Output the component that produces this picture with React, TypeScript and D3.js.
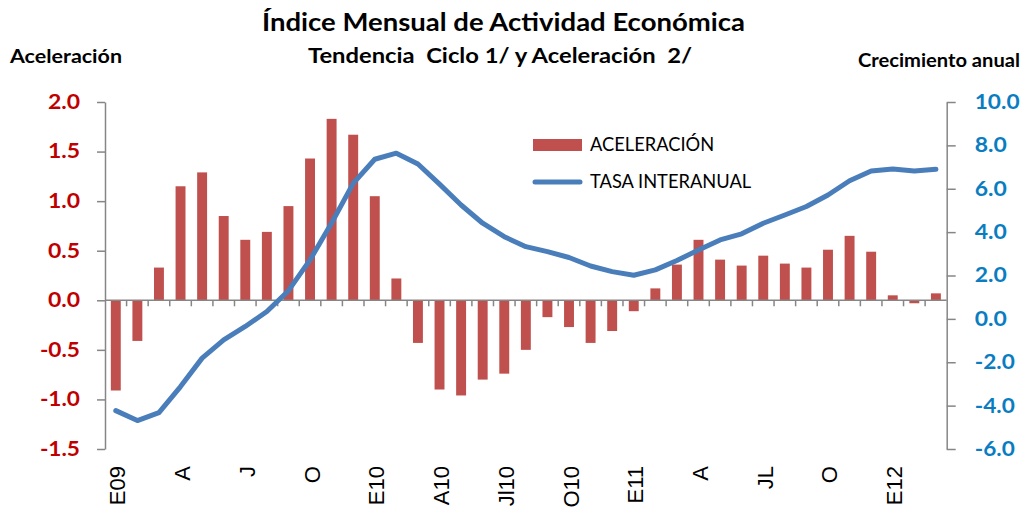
import React, { useRef, useEffect } from "react";
import * as d3 from "d3";

// meses de enero 2009 a marzo 2012
const periodos = [
  "E09", "F09", "M09", "A09", "MY09", "JN09", "JL09", "AG09", "S09", "O09", "N09", "D09",
  "E10", "F10", "M10", "A10", "MY10", "JN10", "JL10", "AG10", "S10", "O10", "N10", "D10",
  "E11", "F11", "M11", "A11", "MY11", "JN11", "JL11", "AG11", "S11", "O11", "N11", "D11",
  "E12", "F12", "M12",
];

const etiquetasX = [
  "E09", "", "", "A", "", "", "J", "", "", "O", "", "",
  "E10", "", "", "A10", "", "", "Jl10", "", "", "O10", "", "",
  "E11", "", "", "A", "", "", "JL", "", "", "O", "", "",
  "E12", "", "",
];

const aceleracion = [
  -0.91, -0.41, 0.33, 1.15, 1.29, 0.85, 0.61, 0.69, 0.95, 1.43, 1.83, 1.67,
  1.05, 0.22, -0.43, -0.9, -0.96, -0.8, -0.74, -0.5, -0.17, -0.27, -0.43, -0.31,
  -0.11, 0.12, 0.36, 0.61, 0.41, 0.35, 0.45, 0.37, 0.33, 0.51, 0.65, 0.49,
  0.05, -0.03, 0.07,
];

const tasaInteranual = [
  -4.23, -4.69, -4.32, -3.12, -1.81, -0.97, -0.35, 0.34, 1.3, 2.72, 4.42, 6.25,
  7.36, 7.64, 7.14, 6.21, 5.25, 4.41, 3.79, 3.33, 3.1, 2.83, 2.44, 2.18,
  2.01, 2.26, 2.69, 3.18, 3.64, 3.92, 4.41, 4.79, 5.18, 5.71, 6.37, 6.82,
  6.91, 6.82, 6.9,
];

const ticksIzq = [-1.5, -1.0, -0.5, 0, 0.5, 1.0, 1.5, 2.0];
const ticksDer = [-6, -4, -2, 0, 2, 4, 6, 8, 10];

const width = 1025;
const height = 507;
const plot = { left: 105, right: 946.7, top: 102, bottom: 449 };

const gris = "#868686";
const rojo = "#C00000";
const azul = "#0A7DC2";
const colorBarra = "#C0504D";
const colorLinea = "#4A7EBB";
const fuente = "Lato, 'Open Sans', sans-serif";

// ancho que ocupa cada etiqueta numérica en la referencia (fuente más ancha)
const anchoEtiqueta = (s: string) =>
  s.split("").reduce((a, c) => a + (c === "." ? 6.5 : c === "-" ? 8 : 12.8), 0);

const App = () => {
  const ref = useRef(null);

  useEffect(() => {
    const svg = d3.select(ref.current);
    svg.selectAll("*").remove();

    const x = d3
      .scaleBand()
      .domain(periodos)
      .range([plot.left, plot.right])
      .padding(0);
    const bw = x.bandwidth();
    const cx = (i: number) => (x(periodos[i]) as number) + bw / 2;

    const yIzq = d3.scaleLinear().domain([-1.5, 2]).range([plot.bottom, plot.top]);
    const yDer = d3.scaleLinear().domain([-6, 10]).range([plot.bottom, plot.top]);

    // barras de aceleración
    svg
      .append("g")
      .selectAll("rect")
      .data(aceleracion)
      .join("rect")
      .attr("x", (d, i) => cx(i) - bw * 0.23)
      .attr("width", bw * 0.46)
      .attr("y", (d) => Math.min(yIzq(d), yIzq(0)))
      .attr("height", (d) => Math.abs(yIzq(d) - yIzq(0)))
      .attr("fill", colorBarra);

    // línea horizontal en cero y marcas de categoría
    const ejeX = svg.append("g");
    ejeX
      .append("line")
      .attr("x1", plot.left)
      .attr("x2", plot.right)
      .attr("y1", yIzq(0))
      .attr("y2", yIzq(0))
      .attr("stroke", gris)
      .attr("stroke-width", 1.5);
    ejeX
      .selectAll("line.marca")
      .data(periodos.slice(1))
      .join("line")
      .attr("class", "marca")
      .attr("x1", (d) => x(d) as number)
      .attr("x2", (d) => x(d) as number)
      .attr("y1", yIzq(0))
      .attr("y2", yIzq(0) + 6)
      .attr("stroke", gris)
      .attr("stroke-width", 1.5);

    ejeX
      .selectAll("text")
      .data(etiquetasX)
      .join("text")
      .attr("transform", (d, i) => `translate(${cx(i) + 2},466) rotate(-90)`)
      .attr("text-anchor", "end")
      .attr("dominant-baseline", "central")
      .attr("font-family", "'Liberation Sans', Arial, sans-serif")
      .attr("font-size", 22)
      .attr("fill", "#000")
      .text((d) => d);

    // línea tasa interanual
    const linea = d3
      .line<number>()
      .x((d, i) => cx(i))
      .y((d) => yDer(d));
    svg
      .append("path")
      .datum(tasaInteranual)
      .attr("d", linea)
      .attr("fill", "none")
      .attr("stroke", colorLinea)
      .attr("stroke-width", 5)
      .attr("stroke-linejoin", "round")
      .attr("stroke-linecap", "round");

    // eje izquierdo
    const ejeIzq = svg
      .append("g")
      .attr("transform", `translate(${plot.left},0)`)
      .call(
        d3
          .axisLeft(yIzq)
          .tickValues(ticksIzq)
          .tickSize(8)
          .tickSizeOuter(0)
          .tickPadding(17)
          .tickFormat((d: any) => d.toFixed(1))
      );
    ejeIzq.selectAll("path, line").attr("stroke", gris).attr("stroke-width", 1.5);
    ejeIzq
      .selectAll("text")
      .attr("fill", rojo)
      .attr("font-family", fuente)
      .attr("font-weight", "bold")
      .attr("font-size", 20)
      .attr("textLength", (d: any) => anchoEtiqueta(d.toFixed(1)))
      .attr("lengthAdjust", "spacingAndGlyphs");

    // eje derecho
    const ejeDer = svg
      .append("g")
      .attr("transform", `translate(${plot.right},0)`)
      .call(
        d3
          .axisRight(yDer)
          .tickValues(ticksDer)
          .tickSize(9)
          .tickSizeOuter(0)
          .tickPadding(19)
          .tickFormat((d: any) => d.toFixed(1))
      );
    ejeDer.selectAll("path, line").attr("stroke", gris).attr("stroke-width", 1.5);
    ejeDer
      .selectAll("text")
      .attr("fill", azul)
      .attr("font-family", fuente)
      .attr("font-weight", "bold")
      .attr("font-size", 20)
      .attr("textLength", (d: any) => anchoEtiqueta(d.toFixed(1)))
      .attr("lengthAdjust", "spacingAndGlyphs");

    // títulos
    const titulos = svg
      .append("g")
      .attr("font-family", fuente)
      .attr("font-weight", "bold")
      .attr("fill", "#000");
    titulos
      .append("text")
      .attr("x", 262)
      .attr("y", 31)
      .attr("font-size", 24)
      .attr("textLength", 483)
      .attr("lengthAdjust", "spacingAndGlyphs")
      .text("Índice Mensual de Actividad Económica");
    titulos
      .append("text")
      .attr("x", 308)
      .attr("y", 63)
      .attr("font-size", 20)
      .attr("textLength", 384)
      .attr("lengthAdjust", "spacingAndGlyphs")
      .style("white-space", "pre")
      .text("Tendencia  Ciclo 1/ y Aceleración  2/");
    titulos
      .append("text")
      .attr("x", 10)
      .attr("y", 63)
      .attr("font-size", 18)
      .attr("textLength", 112)
      .attr("lengthAdjust", "spacingAndGlyphs")
      .text("Aceleración");
    titulos
      .append("text")
      .attr("x", 858)
      .attr("y", 67)
      .attr("font-size", 18)
      .attr("textLength", 162)
      .attr("lengthAdjust", "spacingAndGlyphs")
      .text("Crecimiento anual");

    // leyenda
    const leyenda = svg.append("g").attr("font-family", fuente).attr("font-size", 18.3);
    leyenda
      .append("rect")
      .attr("x", 533)
      .attr("y", 139)
      .attr("width", 49)
      .attr("height", 12)
      .attr("fill", colorBarra);
    leyenda.append("text").attr("x", 590).attr("y", 151).text("ACELERACIÓN");
    leyenda
      .append("line")
      .attr("x1", 535)
      .attr("x2", 580)
      .attr("y1", 182)
      .attr("y2", 182)
      .attr("stroke", colorLinea)
      .attr("stroke-width", 5)
      .attr("stroke-linecap", "round");
    leyenda.append("text").attr("x", 590).attr("y", 188).text("TASA INTERANUAL");

    return () => undefined;
  }, []);

  return (
    <div style={{ position: "absolute", left: 0, top: 0 }}>
      <svg ref={ref} width={width} height={height} style={{ display: "block", background: "#fff" }} />
    </div>
  );
};

export default App;
